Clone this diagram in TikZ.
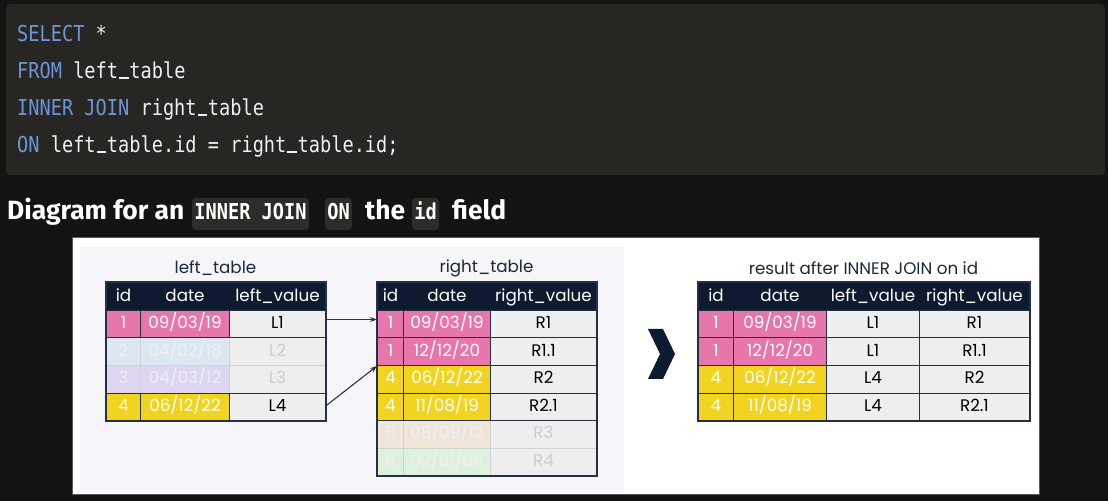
\documentclass[tikz,border=0pt]{standalone}
\usepackage{fontspec}
\usetikzlibrary{arrows.meta}
\setmainfont{Poppins}
\newfontfamily\codefont{DejaVu Sans Mono}[FakeStretch=0.85]
\newfontfamily\headfont{Fira Sans}
\definecolor{bgc}{HTML}{131313}
\definecolor{codebg}{HTML}{272622}
\definecolor{chipbg}{HTML}{2D2C29}
\definecolor{kwc}{HTML}{6C96D8}
\definecolor{codetxt}{HTML}{F0F0F0}
\definecolor{framedraw}{HTML}{5A5A5A}
\definecolor{panelc}{HTML}{F6F6FA}
\definecolor{navy}{HTML}{0E1A2F}
\definecolor{bord}{HTML}{243044}
\definecolor{pinkc}{HTML}{E676AB}
\definecolor{yelc}{HTML}{F0D420}
\definecolor{grayc}{HTML}{EEEEEE}
\definecolor{fblue}{HTML}{DCE7F0}
\definecolor{flav}{HTML}{DDD5F2}
\definecolor{fbeige}{HTML}{EFE5D9}
\definecolor{fgreen}{HTML}{DDF1DC}
\definecolor{fline}{HTML}{D2D2D6}
\definecolor{ftxtc}{HTML}{EEF1F6}
\definecolor{fvt}{HTML}{CDCDCD}
\definecolor{titlec}{HTML}{1E2839}
\definecolor{arrc}{HTML}{2B3447}
\newcommand\kw[1]{\textcolor{kwc}{#1}}
\newcommand\us{\hbox to 11.25bp{\hss\rule[-0.3bp]{9.5bp}{1.7bp}\hss}}
\tikzset{
  tcell/.style={draw=bord, line width=1bp, inner sep=0pt, anchor=north west,
    minimum height=27.5bp, text height=11.8bp, text depth=2.5bp,
    font=\fontsize{16.8}{16.8}\selectfont},
  hdr/.style={fill=navy, draw=navy, text=white, minimum height=28bp},
  pk/.style={fill=pinkc, text=white},
  yl/.style={fill=yelc, text=white},
  gv/.style={fill=grayc, text=black},
  fcol/.style={fill=#1, draw=fline, text=ftxtc},
  fval/.style={fill=grayc, draw=fline, text=fvt},
  lc1/.style={minimum width=34bp}, lc2/.style={minimum width=89bp}, lc3/.style={minimum width=96bp},
  rc1/.style={minimum width=26bp}, rc2/.style={minimum width=87bp}, rc3/.style={minimum width=106bp},
  oc1/.style={minimum width=35bp}, oc2/.style={minimum width=93bp}, oc3/.style={minimum width=93bp}, oc4/.style={minimum width=110bp},
  frame/.style={draw=bord, line width=1.3bp},
  ttl/.style={text=titlec, font=\fontsize{16.8}{16.8}\selectfont, inner sep=0pt},
  codeline/.style={anchor=base west, inner sep=0pt, text=codetxt, font=\codefont\fontsize{22}{22}\selectfont},
  headtxt/.style={anchor=base west, inner sep=0pt, text=white, font=\headfont\bfseries\fontsize{26.5}{26.5}\selectfont},
  chip/.style={fill=chipbg, rounded corners=4bp, inner sep=0pt, minimum height=32bp, text=white,
    text height=16bp, text depth=4bp, font=\codefont\bfseries\fontsize{22}{22}\selectfont},
  conn/.style={draw=arrc, line width=1.1bp, -{Stealth[length=7bp,width=5bp]}}
}
\begin{document}
\begin{tikzpicture}[x=1bp,y=-1bp]
\useasboundingbox (0,0) rectangle (1108,501);
\fill[bgc] (0,0) rectangle (1108,501);
% code box
\fill[codebg, rounded corners=4bp] (6,4) rectangle (1105,175);
\node[codeline] (c1) at (17,42) {\kw{SELECT} *};
\node[codeline] (c2) at (17,78.5) {\kw{FROM} left\us table};
\node[codeline] (c3) at (17,115.5) {\kw{INNER JOIN} right\us table};
\node[codeline] (c4) at (17,152.5) {\kw{ON} left\us table.id = right\us table.id;};
% heading
\node[headtxt] (h1) at (7,219.5) {Diagram for an};
\node[chip, minimum width=117bp] (k1) at (250.5,214) {INNER JOIN};
\node[chip, minimum width=27bp] (k2) at (338.5,214) {ON};
\node[headtxt] (h2) at (365,219.5) {the};
\node[chip, minimum width=27bp] (k3) at (425.5,214) {id};
\node[headtxt] (h3) at (452,219.5) {field};
% white frame and panel
\filldraw[fill=white, draw=framedraw, line width=0.8bp] (72,237) rectangle (1039,494);
\fill[panelc] (80,247) rectangle (624,492);
% titles
\node[ttl] (t1) at (215.5,268) {left\_table};
\node[ttl] (t2) at (486.5,268) {right\_table};
\node[ttl] (t3) at (863.5,268) {result after INNER JOIN on id};
% ---------- left table ----------
\node[tcell,fcol=fblue,lc1] (l2a) at (106,337.5) {2};
\node[tcell,fcol=fblue,lc2] (l2b) at (140,337.5) {04/02/18};
\node[tcell,fval,lc3] (l2c) at (229,337.5) {L2};
\node[tcell,fcol=flav,lc1] (l3a) at (106,365) {3};
\node[tcell,fcol=flav,lc2] (l3b) at (140,365) {04/03/12};
\node[tcell,fval,lc3] (l3c) at (229,365) {L3};
\node[tcell,hdr,lc1] (l0a) at (106,282) {id};
\node[tcell,hdr,lc2] (l0b) at (140,282) {date};
\node[tcell,hdr,lc3] (l0c) at (229,282) {left\_value};
\node[tcell,pk,lc1] (l1a) at (106,310) {1};
\node[tcell,pk,lc2] (l1b) at (140,310) {09/03/19};
\node[tcell,gv,lc3] (l1c) at (229,310) {L1};
\node[tcell,yl,lc1] (l4a) at (106,392.5) {4};
\node[tcell,yl,lc2] (l4b) at (140,392.5) {06/12/22};
\node[tcell,gv,lc3] (l4c) at (229,392.5) {L4};
\draw[frame] (l0a.north west) rectangle (l4c.south east);
% ---------- right table ----------
\node[tcell,fcol=fbeige,rc1] (r5a) at (377,420) {5};
\node[tcell,fcol=fbeige,rc2] (r5b) at (403,420) {08/09/12};
\node[tcell,fval,rc3] (r5c) at (490,420) {R3};
\node[tcell,fcol=fgreen,rc1] (r6a) at (377,447.5) {6};
\node[tcell,fcol=fgreen,rc2] (r6b) at (403,447.5) {02/01/09};
\node[tcell,fval,rc3] (r6c) at (490,447.5) {R4};
\node[tcell,hdr,rc1] (r0a) at (377,282) {id};
\node[tcell,hdr,rc2] (r0b) at (403,282) {date};
\node[tcell,hdr,rc3] (r0c) at (490,282) {right\_value};
\node[tcell,pk,rc1] (r1a) at (377,310) {1};
\node[tcell,pk,rc2] (r1b) at (403,310) {09/03/19};
\node[tcell,gv,rc3] (r1c) at (490,310) {R1};
\node[tcell,pk,rc1] (r2a) at (377,337.5) {1};
\node[tcell,pk,rc2] (r2b) at (403,337.5) {12/12/20};
\node[tcell,gv,rc3] (r2c) at (490,337.5) {R1.1};
\node[tcell,yl,rc1] (r3a) at (377,365) {4};
\node[tcell,yl,rc2] (r3b) at (403,365) {06/12/22};
\node[tcell,gv,rc3] (r3c) at (490,365) {R2};
\node[tcell,yl,rc1] (r4a) at (377,392.5) {4};
\node[tcell,yl,rc2] (r4b) at (403,392.5) {11/08/19};
\node[tcell,gv,rc3] (r4c) at (490,392.5) {R2.1};
\draw[frame] (r0a.north west) rectangle (r6c.south east);
% ---------- connectors ----------
\draw[conn] ([yshift=4.75bp]l1c.east) -- ([yshift=4.75bp]r1a.west);
\draw[conn] ([yshift=1bp]l4c.east) -- ([yshift=-1bp]r3a.north west);
% ---------- chevron ----------
\fill[navy] (648,329) -- (663,329) -- (675,354) -- (663,379) -- (648,379) -- (660,354) -- cycle;
% ---------- result table ----------
\node[tcell,hdr,oc1] (o0a) at (698,282) {id};
\node[tcell,hdr,oc2] (o0b) at (733,282) {date};
\node[tcell,hdr,oc3] (o0c) at (826,282) {left\_value};
\node[tcell,hdr,oc4] (o0d) at (919,282) {right\_value};
\node[tcell,pk,oc1] (o1a) at (698,310) {1};
\node[tcell,pk,oc2] (o1b) at (733,310) {09/03/19};
\node[tcell,gv,oc3] (o1c) at (826,310) {L1};
\node[tcell,gv,oc4] (o1d) at (919,310) {R1};
\node[tcell,pk,oc1] (o2a) at (698,337.5) {1};
\node[tcell,pk,oc2] (o2b) at (733,337.5) {12/12/20};
\node[tcell,gv,oc3] (o2c) at (826,337.5) {L1};
\node[tcell,gv,oc4] (o2d) at (919,337.5) {R1.1};
\node[tcell,yl,oc1] (o3a) at (698,365) {4};
\node[tcell,yl,oc2] (o3b) at (733,365) {06/12/22};
\node[tcell,gv,oc3] (o3c) at (826,365) {L4};
\node[tcell,gv,oc4] (o3d) at (919,365) {R2};
\node[tcell,yl,oc1] (o4a) at (698,392.5) {4};
\node[tcell,yl,oc2] (o4b) at (733,392.5) {11/08/19};
\node[tcell,gv,oc3] (o4c) at (826,392.5) {L4};
\node[tcell,gv,oc4] (o4d) at (919,392.5) {R2.1};
\draw[frame] (o0a.north west) rectangle (o4d.south east);
\end{tikzpicture}
\end{document}
